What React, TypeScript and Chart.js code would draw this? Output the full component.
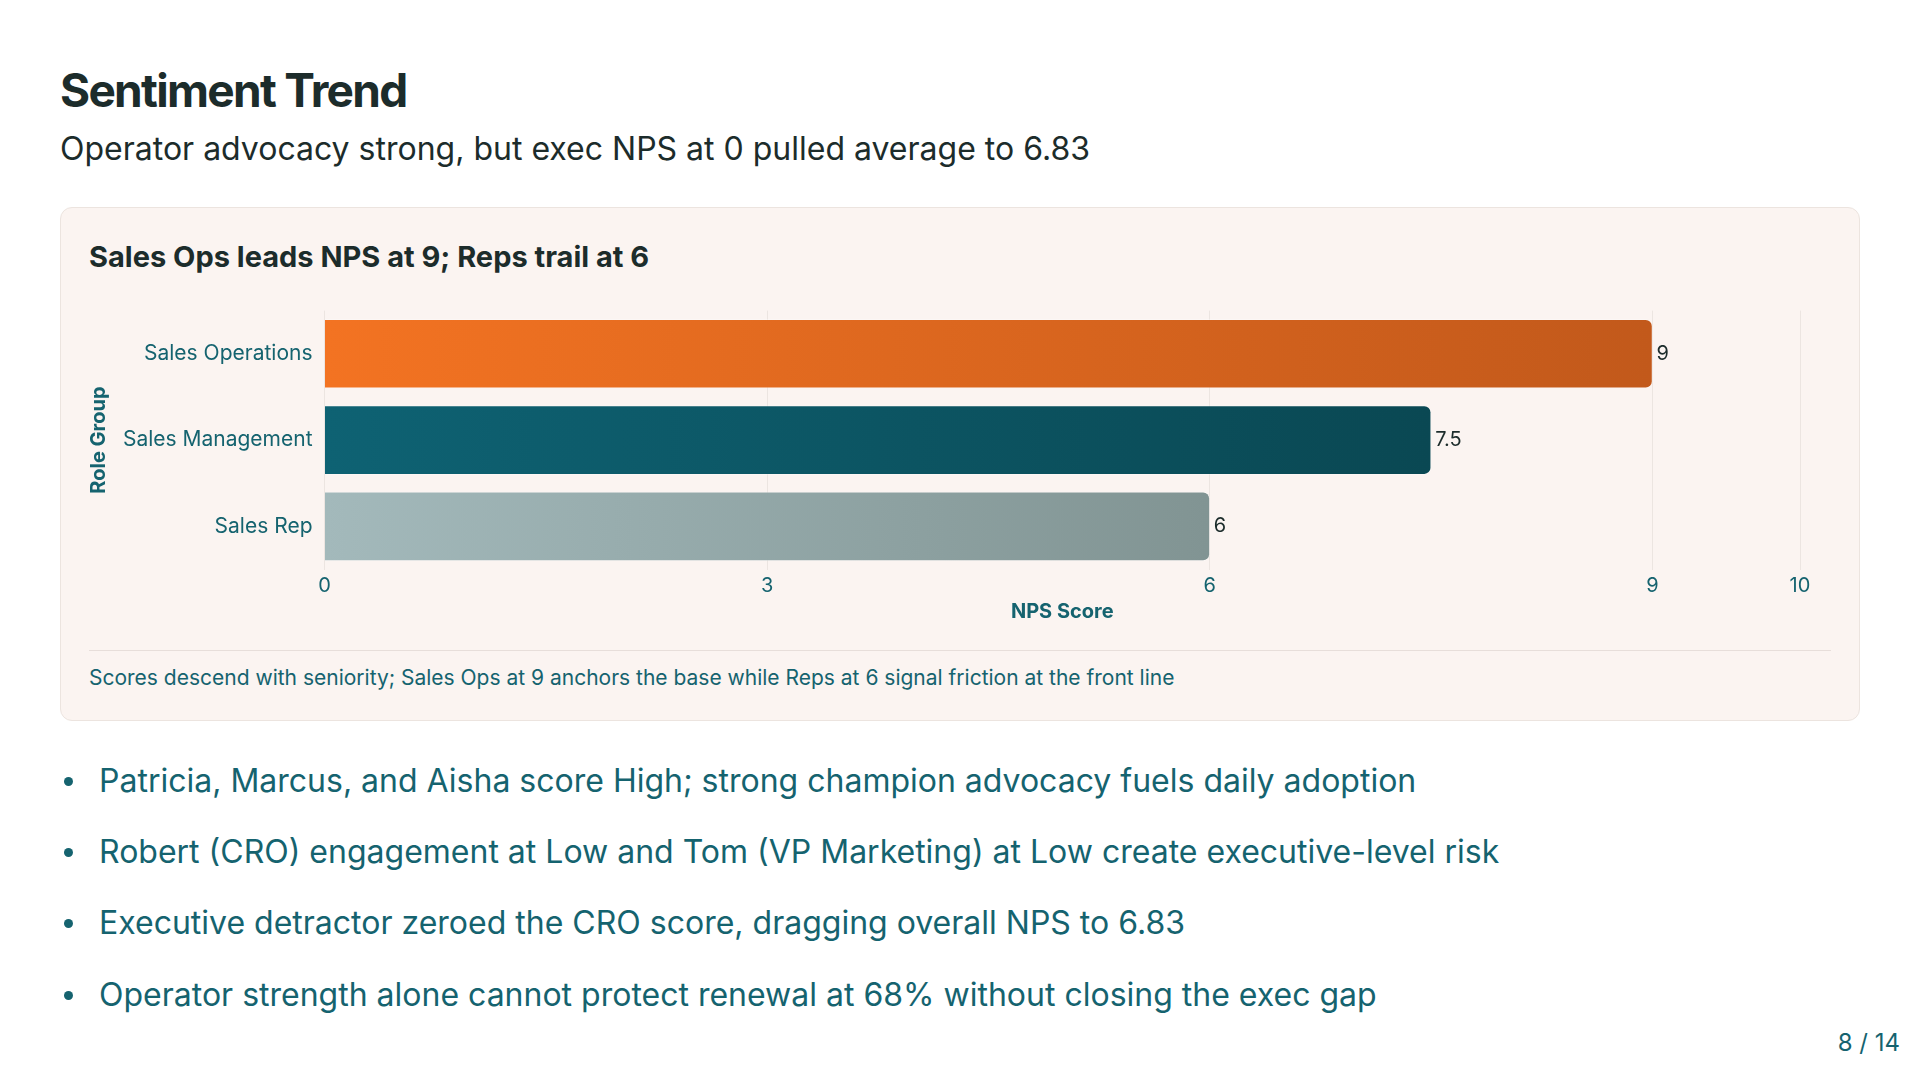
import React, { useEffect, useRef } from "react";
import { Chart, registerables } from "chart.js";

Chart.register(...registerables);

const categories = ["Sales Operations", "Sales Management", "Sales Rep"];
const npsValues = [9, 7.5, 6];
const xTickValues = [0, 3, 6, 9, 10];
const gradientStops = [
  ["#f37322", "#c2591b"],
  ["#0e6273", "#0a4853"],
  ["#a3b9bb", "#819493"],
];
const bullets = [
  "Patricia, Marcus, and Aisha score High; strong champion advocacy fuels daily adoption",
  "Robert (CRO) engagement at Low and Tom (VP Marketing) at Low create executive-level risk",
  "Executive detractor zeroed the CRO score, dragging overall NPS to 6.83",
  "Operator strength alone cannot protect renewal at 68% without closing the exec gap",
];

const TEAL = "#15636f";
const DARK = "#1c2c2b";
const FONT = "Inter, 'Noto Sans', sans-serif";

const valueLabelPlugin = {
  id: "valueLabels",
  afterDatasetsDraw(chart: any) {
    const ctx = chart.ctx;
    const meta = chart.getDatasetMeta(0);
    ctx.save();
    ctx.font = `400 20px ${FONT}`;
    ctx.fillStyle = DARK;
    ctx.textAlign = "left";
    ctx.textBaseline = "middle";
    meta.data.forEach((bar: any, i: number) => {
      ctx.fillText(String(npsValues[i]), bar.x + 4, bar.y);
    });
    ctx.restore();
  },
};

function NpsChart() {
  const ref = useRef<HTMLCanvasElement | null>(null);
  useEffect(() => {
    if (!ref.current) return;
    const chart = new Chart(ref.current, {
      type: "bar",
      data: {
        labels: categories,
        datasets: [
          {
            data: npsValues,
            backgroundColor: (c: any) => {
              const chart = c.chart;
              const i = c.dataIndex;
              const stops = gradientStops[i] || gradientStops[0];
              if (!chart.chartArea || !chart.scales.x) return stops[0];
              const x0 = chart.scales.x.getPixelForValue(0);
              const x1 = chart.scales.x.getPixelForValue(npsValues[i]);
              const g = chart.ctx.createLinearGradient(x0, 0, x1, 0);
              g.addColorStop(0, stops[0]);
              g.addColorStop(1, stops[1]);
              return g;
            },
            borderColor: "rgba(255,255,255,0.3)",
            borderWidth: 1,
            borderSkipped: "start",
            borderRadius: 7,
            barThickness: 69,
          },
        ],
      },
      options: {
        indexAxis: "y",
        animation: false,
        responsive: false,
        maintainAspectRatio: false,
        layout: { padding: { top: 13, right: 31, left: 0, bottom: 0 } },
        plugins: {
          legend: { display: false },
          tooltip: { enabled: false },
        },
        scales: {
          x: {
            min: 0,
            max: 10,
            afterBuildTicks: (scale: any) => {
              scale.ticks = xTickValues.map((v) => ({ value: v }));
            },
            afterFit: (scale: any) => {
              scale.height = 60.5;
            },
            grid: { color: "#ece5e1", drawTicks: false, lineWidth: 1 },
            border: { display: false },
            ticks: {
              padding: 4,
              color: TEAL,
              font: { family: FONT, size: 20 },
            },
            title: {
              display: true,
              text: "NPS Score",
              color: TEAL,
              font: { family: FONT, size: 20, weight: "bold" },
              padding: { top: 0, bottom: 6 },
            },
          },
          y: {
            afterFit: (scale: any) => {
              scale.width = 237.5;
            },
            grid: { display: false, drawTicks: false },
            border: { display: false },
            ticks: {
              padding: 12,
              color: TEAL,
              font: { family: FONT, size: 21 },
            },
            title: {
              display: true,
              text: "Role Group",
              color: TEAL,
              font: { family: FONT, size: 20, weight: "bold" },
              padding: { top: 0, bottom: 0 },
            },
          },
        },
      },
      plugins: [valueLabelPlugin],
    } as any);
    return () => chart.destroy();
  }, []);
  return (
    <canvas
      ref={ref}
      width={1744}
      height={344}
      style={{ position: "absolute", left: 87, top: 286, width: 1744, height: 344 }}
    />
  );
}

export default function App() {
  const abs = (o: any): React.CSSProperties => ({ position: "absolute", whiteSpace: "nowrap", margin: 0, ...o });
  return (
    <div
      style={{
        position: "fixed",
        left: 0,
        top: 0,
        width: 1920,
        height: 1080,
        background: "#ffffff",
        fontFamily: FONT,
        overflow: "hidden",
      }}
    >
      <div style={abs({ left: 60, top: 62, fontSize: 46, lineHeight: "56px", fontWeight: 700, color: DARK, letterSpacing: "-1.7px" })}>
        Sentiment Trend
      </div>
      <div style={abs({ left: 60, top: 130, fontSize: 32, lineHeight: "38px", fontWeight: 400, color: DARK })}>
        Operator advocacy strong, but exec NPS at 0 pulled average to 6.83
      </div>
      <div
        style={abs({
          left: 60,
          top: 207,
          width: 1800,
          height: 514,
          boxSizing: "border-box",
          background: "#fbf4f1",
          border: "1px solid #ece4df",
          borderRadius: 12,
        })}
      />
      <div style={abs({ left: 89, top: 240, fontSize: 29, lineHeight: "34px", fontWeight: 700, color: DARK })}>
        Sales Ops leads NPS at 9; Reps trail at 6
      </div>
      <NpsChart />
      <div style={abs({ left: 89, top: 650, width: 1742, height: 1, background: "#e7deda" })} />
      <div style={abs({ left: 89, top: 665, fontSize: 21, lineHeight: "26px", color: TEAL })}>
        Scores descend with seniority; Sales Ops at 9 anchors the base while Reps at 6 signal friction at the front line
      </div>
      {bullets.map((b, i) => {
        const centers = [781, 852, 923, 995];
        const c = centers[i];
        return (
          <React.Fragment key={i}>
            <div
              style={abs({
                left: 64,
                top: c - 4.5,
                width: 9,
                height: 9,
                borderRadius: 5,
                background: TEAL,
              })}
            />
            <div style={abs({ left: 99, top: c - 19, fontSize: 32, lineHeight: "38px", color: TEAL })}>{b}</div>
          </React.Fragment>
        );
      })}
      <div style={abs({ right: 20, top: 1029, fontSize: 24, lineHeight: "28px", color: TEAL })}>8 / 14</div>
    </div>
  );
}
